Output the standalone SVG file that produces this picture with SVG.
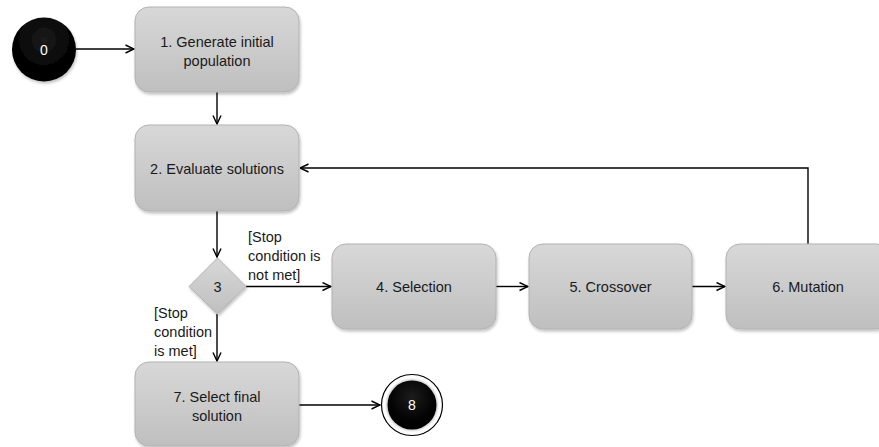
<svg xmlns="http://www.w3.org/2000/svg" width="879" height="447" viewBox="0 0 879 447">
  <style>
    text { font-family: "Liberation Sans", Arial, sans-serif; font-size: 14.5px; fill: #1a1a1a; }
    .c { text-anchor: middle; }
    .w { fill: #ffffff; font-size: 14px; }
    .box { fill: url(#boxFill); stroke: #b2b2b2; stroke-width: 1; filter: url(#shadow); }
    .edge { fill: none; stroke: #000000; stroke-width: 1.4; }
  </style>
  <defs>
    <linearGradient id="boxFill" x1="0" y1="0" x2="0" y2="1">
      <stop offset="0" stop-color="#d8d8d8"/>
      <stop offset="1" stop-color="#bfbfbf"/>
    </linearGradient>
    <radialGradient id="blackFill" cx="0.5" cy="0.35" r="0.65">
      <stop offset="0" stop-color="#1c1c1c"/>
      <stop offset="0.7" stop-color="#030303"/>
      <stop offset="1" stop-color="#000000"/>
    </radialGradient>
    <filter id="shadow" x="-10%" y="-10%" width="130%" height="130%">
      <feGaussianBlur in="SourceAlpha" stdDeviation="1.5"/>
      <feOffset dx="1" dy="1.5" result="b"/>
      <feComponentTransfer><feFuncA type="linear" slope="0.25"/></feComponentTransfer>
      <feMerge><feMergeNode/><feMergeNode in="SourceGraphic"/></feMerge>
    </filter>
    <filter id="glow" x="-20%" y="-20%" width="140%" height="140%">
      <feGaussianBlur stdDeviation="1.2"/>
    </filter>
    <marker id="arrow" viewBox="0 0 10 10" refX="9.5" refY="5" markerWidth="10" markerHeight="10" markerUnits="userSpaceOnUse" orient="auto">
      <path d="M1,1 L9.5,5 L1,9" fill="none" stroke="#000000" stroke-width="1.4"/>
    </marker>
  </defs>

  <!-- connectors -->
  <g id="connectors">
    <line class="edge" x1="76" y1="49" x2="134" y2="49" marker-end="url(#arrow)"/>
    <line class="edge" x1="217" y1="92" x2="217" y2="124" marker-end="url(#arrow)"/>
    <line class="edge" x1="217" y1="211" x2="217" y2="257" marker-end="url(#arrow)"/>
    <line class="edge" x1="246" y1="286.5" x2="331" y2="286.5" marker-end="url(#arrow)"/>
    <line class="edge" x1="496" y1="286.5" x2="528" y2="286.5" marker-end="url(#arrow)"/>
    <line class="edge" x1="692" y1="286.5" x2="725" y2="286.5" marker-end="url(#arrow)"/>
    <polyline class="edge" points="808,244 808,168 300,168" marker-end="url(#arrow)"/>
    <line class="edge" x1="217" y1="314" x2="217" y2="361" marker-end="url(#arrow)"/>
    <line class="edge" x1="299" y1="405" x2="380" y2="405" marker-end="url(#arrow)"/>
    <text x="248" y="242">[Stop</text>
    <text x="248" y="261">condition is</text>
    <text x="248" y="280">not met]</text>
    <text x="154" y="318">[Stop</text>
    <text x="154" y="337">condition</text>
    <text x="154" y="356">is met]</text>
  </g>

  <!-- initial node -->
  <g id="node0">
    <circle cx="44" cy="49.5" r="32" fill="url(#blackFill)" filter="url(#shadow)"/>
    <text class="c w" x="44" y="55">0</text>
  </g>

  <g id="node1">
    <rect class="box" x="135" y="7" width="164" height="85" rx="14"/>
    <text class="c" x="217" y="47">1. Generate initial</text>
    <text class="c" x="217" y="66">population</text>
  </g>

  <g id="node2">
    <rect class="box" x="135" y="125" width="164" height="86" rx="14"/>
    <text class="c" x="217" y="174">2. Evaluate solutions</text>
  </g>

  <g id="node3">
    <polygon class="box" points="217.5,258 246,286.5 217.5,314 189,286.5"/>
    <text class="c" x="217.5" y="292">3</text>
  </g>

  <g id="node4">
    <rect class="box" x="332" y="244" width="164" height="85" rx="14"/>
    <text class="c" x="414" y="292">4. Selection</text>
  </g>

  <g id="node5">
    <rect class="box" x="529" y="244" width="163" height="85" rx="14"/>
    <text class="c" x="610.5" y="292">5. Crossover</text>
  </g>

  <g id="node6">
    <rect class="box" x="726" y="244" width="164" height="85" rx="14"/>
    <text class="c" x="808" y="292">6. Mutation</text>
  </g>

  <g id="node7">
    <rect class="box" x="135" y="362" width="164" height="84" rx="14"/>
    <text class="c" x="217" y="402">7. Select final</text>
    <text class="c" x="217" y="421">solution</text>
  </g>

  <!-- final node -->
  <g id="node8">
    <circle cx="412" cy="405" r="30.5" fill="#ffffff" stroke="#000000" stroke-width="1.2"/>
    <circle cx="412" cy="405" r="25.5" fill="#bbbbbb" filter="url(#glow)"/>
    <circle cx="412" cy="405" r="24.5" fill="url(#blackFill)"/>
    <text class="c w" x="412" y="410">8</text>
  </g>
</svg>
